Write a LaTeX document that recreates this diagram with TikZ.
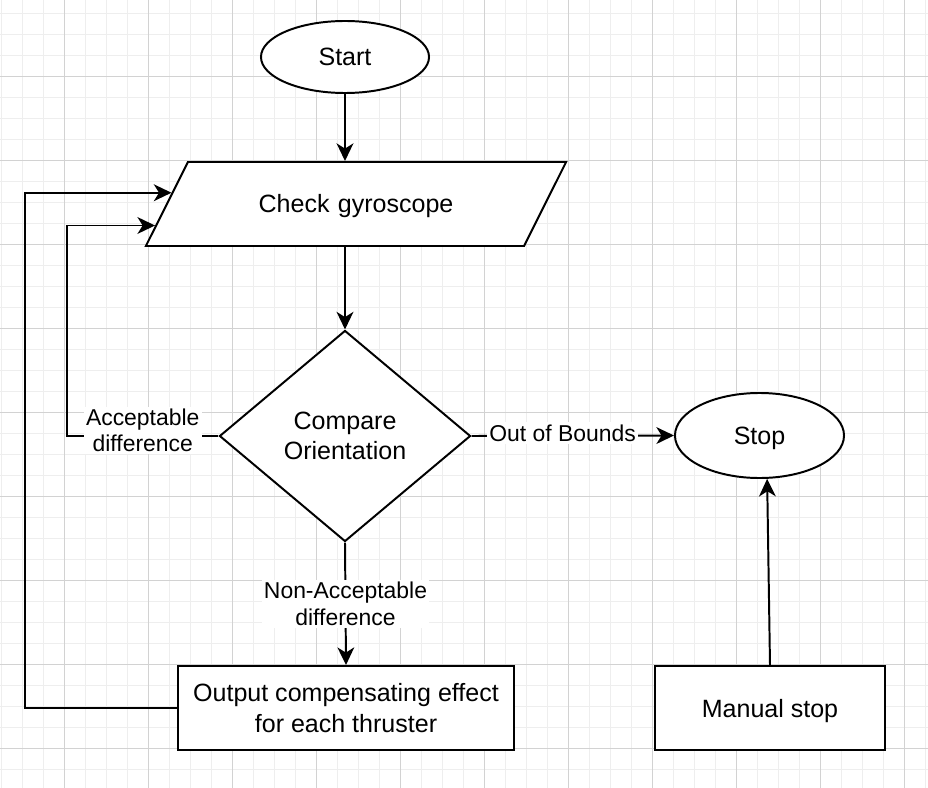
\documentclass[tikz,border=0pt]{standalone}
\usepackage{fontspec}
\setmainfont{Liberation Sans}
\usetikzlibrary{arrows.meta,shapes.geometric,calc}

\begin{document}
\begin{tikzpicture}[x=0.025cm,y=-0.025cm,>={Stealth[length=0.44cm,width=0.42cm,inset=0.13cm]},
  box/.style={draw,fill=white,line width=1.4pt,font=\fontsize{17.8}{21.5}\selectfont,align=center,inner sep=0pt},
  lbl/.style={fill=white,font=\fontsize{16.3}{19}\selectfont,align=center,inner sep=1.5pt},
  flow/.style={->,line width=1.4pt}]
\useasboundingbox (0,0) rectangle (928,788);
% grid
\foreach \i in {0,...,44} \draw[line width=0.7pt,gray!13] (1.5+21*\i,0) -- (1.5+21*\i,788);
\foreach \j in {0,...,37} \draw[line width=0.7pt,gray!13] (0,13.5+21*\j) -- (928,13.5+21*\j);
\foreach \i in {0,...,10} \draw[line width=0.7pt,gray!35] (64.5+84*\i,0) -- (64.5+84*\i,788);
\foreach \j in {0,...,8} \draw[line width=0.7pt,gray!35] (0,76.5+84*\j) -- (928,76.5+84*\j);

\node[box,ellipse,minimum width=4.2cm,minimum height=1.8cm] (start) at (345,57) {Start};
\node[box,trapezium,trapezium left angle=63.4,trapezium right angle=116.6,
  text width=8.4cm,text height=1.25cm,text depth=0.85cm] (check) at (356,204) {Check gyroscope};
\node[box,diamond,minimum width=6.275cm,minimum height=5.275cm] (cmp) at (345,436) {Compare\\Orientation};
\node[box,ellipse,minimum width=4.225cm,minimum height=2.125cm,text height=0.7cm,text depth=0.24cm] (stop) at (759.5,435.5) {Stop};
\node[box,minimum width=8.4cm,minimum height=2.1cm] (out) at (346,708) {Output compensating effect\\for each thruster};
\node[box,minimum width=5.75cm,minimum height=2.1cm,text height=0.7cm,text depth=0.24cm] (mstop) at (770,708) {Manual stop};

\coordinate (in1) at ($(check.bottom left corner)!0.631!(check.top left corner)$);
\coordinate (in2) at ($(check.bottom left corner)!0.25!(check.top left corner)$);
\coordinate (accl) at (67,436);
\coordinate (outl) at (25,708);

\draw[flow] (start.south) -- (start.south |- check.north);
\draw[flow] (start.south |- check.south) -- (cmp.north);
\draw[flow] (cmp.east) -- node[lbl,pos=0.45,yshift=0.07cm]{Out of Bounds} (stop.west);
\draw[flow] (cmp.south) -- node[lbl]{Non-Acceptable\\difference} (out.north);
\draw[flow] (cmp.west) -- node[lbl,yshift=0.14cm]{Acceptable\\difference} (accl) |- (in2);
\draw[flow] (out.west) -- (outl) |- (in1);
\draw[flow] (mstop.north) -- (stop.-80);
\end{tikzpicture}
\end{document}
